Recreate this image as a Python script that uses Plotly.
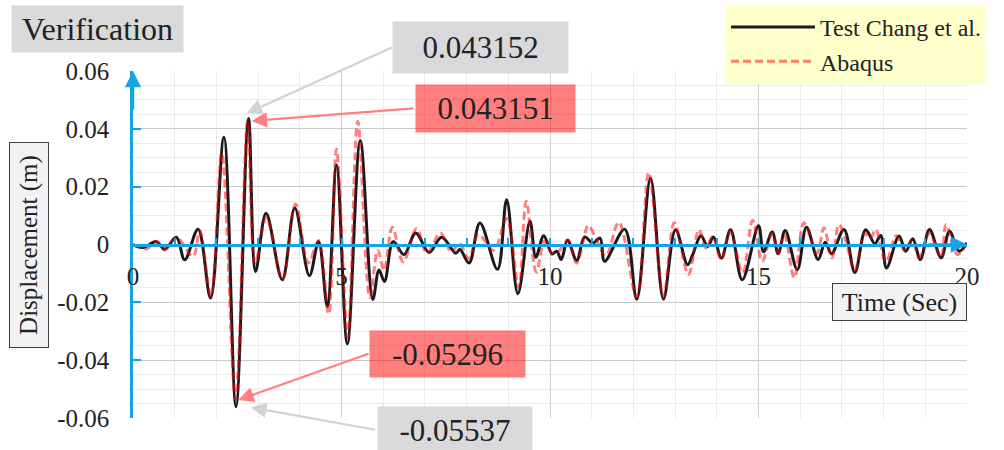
import plotly.graph_objects as go

# ---------------- data ----------------
time_test = [0, 0.24, 0.56, 0.76, 1.04, 1.24, 1.56, 1.86, 2.18, 2.47, 2.77, 2.94, 3.19, 3.58,
             3.88, 4.23, 4.45, 4.66, 4.88, 5.14, 5.45, 5.75, 5.9, 6.03, 6.24, 6.5, 6.78, 7.1,
             7.4, 7.74, 7.84, 8.06, 8.32, 8.74, 8.96, 9.23, 9.52, 9.66, 9.85, 10.05, 10.16,
             10.27, 10.42, 10.64, 10.83, 11.03, 11.2, 11.31, 11.79, 12.08, 12.41, 12.72, 13.01,
             13.3, 13.42, 13.62, 13.78, 13.92, 14.11, 14.33, 14.61, 15.0, 15.12, 15.33, 15.47,
             15.64, 15.93, 16.15, 16.43, 16.6, 16.75, 17.05, 17.31, 17.57, 17.79, 17.93, 18.07,
             18.37, 18.53, 18.7, 18.88, 19.1, 19.38, 19.58, 19.81, 20.0]
disp_test = [0, -0.001, 0.001, -0.0016, 0.0025, -0.0053, 0.0053, -0.0185, 0.0371, -0.0561,
             0.0436, -0.0093, 0.0108, -0.0122, 0.0126, -0.0108, 0.001, -0.0214, 0.0275, -0.0344,
             0.036, -0.019, -0.0088, -0.0128, 0.001, -0.0035, 0.004, -0.0028, 0.0025, -0.003,
             -0.0017, -0.0064, 0.0074, -0.0086, 0.0155, -0.017, 0.008, -0.0044, 0.003, -0.0033,
             -0.0023, -0.0052, 0.0015, -0.0055, 0.0026, 0.0005, 0.0022, -0.0058, 0.0053, -0.0189,
             0.0229, -0.0189, 0.0051, -0.007, -0.0036, 0.003, -0.0007, 0.0026, -0.0047, 0.0051,
             -0.0122, 0.0065, -0.0025, 0.0043, -0.0032, 0.0048, -0.0087, 0.006, -0.0052, 0.0008,
             -0.0032, 0.0052, -0.0097, 0.0051, 0.0003, 0.0031, -0.0081, 0.0029, -0.0023, 0.002,
             -0.0052, 0.0052, -0.0046, 0.0046, -0.0023, 0.0006]

time_abaqus = [0, 0.32, 0.56, 0.76, 1.04, 1.44, 1.6, 1.87, 2.13, 2.46, 2.75, 2.93, 3.2, 3.58,
               3.9, 4.2, 4.45, 4.69, 4.88, 5.15, 5.39, 5.68, 5.87, 6.02, 6.22, 6.48, 6.8, 7.05,
               7.37, 7.64, 7.82, 8.05, 8.28, 8.65, 8.96, 9.25, 9.43, 9.67, 9.87, 10.05, 10.2,
               10.43, 10.64, 10.92, 11.1, 11.34, 11.65, 12.08, 12.37, 12.72, 12.98, 13.32, 13.57,
               13.74, 13.9, 14.11, 14.32, 14.62, 14.86, 15.09, 15.33, 15.48, 15.62, 15.86, 16.09,
               16.4, 16.57, 16.76, 16.93, 17.1, 17.31, 17.55, 17.68, 17.81, 18.06, 18.3, 18.5,
               18.68, 18.86, 19.1, 19.38, 19.5, 19.77, 20.0]
disp_abaqus = [0, -0.0016, 0.001, -0.0019, 0.0024, -0.0041, 0.0048, -0.018, 0.0317, -0.0535,
               0.043, -0.0064, 0.0095, -0.012, 0.014, -0.0064, 0.0014, -0.024, 0.033, -0.032,
               0.0426, -0.0183, -0.002, -0.009, 0.006, -0.006, 0.0055, -0.003, 0.004, -0.0027,
               0.0005, -0.0048, 0.0035, -0.002, 0.009, -0.0148, 0.015, -0.0095, 0.0012, -0.003,
               -0.0025, 0.0016, -0.0064, 0.0066, 0.002, -0.004, 0.0077, -0.0182, 0.0248, -0.0182,
               0.0075, -0.0104, 0.0051, -0.0012, 0.0028, -0.0052, 0.0045, -0.0098, 0.0084,
               -0.0058, 0.004, -0.003, 0.0035, -0.0115, 0.0075, -0.003, 0.0058, -0.0046, 0.0069,
               0.001, -0.009, 0.004, 0.002, 0.0052, -0.006, 0.003, -0.002, 0.0015, -0.0045, 0.004,
               -0.0046, 0.0069, -0.0035, 0.0005]

series_names = ["Test Chang et al.", "Abaqus"]
x_tick_vals = [0, 5, 10, 15, 20]
x_tick_text = ["0", "5", "10", "15", "20"]
y_tick_vals = [-0.06, -0.04, -0.02, 0, 0.02, 0.04, 0.06]
y_tick_text = ["-0.06", "-0.04", "-0.02", "0", "0.02", "0.04", "0.06"]
peak_labels = ["0.043152", "0.043151", "-0.05296", "-0.05537"]

# ---------------- styling / layout helpers ----------------
FONT = "Liberation Serif"
BLUE = "#14A3E4"
TXT = "#222222"
L, T, W, H = 133, 71, 834, 347   # plot area in pixels


def paper(px, py):
    return (px - L) / W, 1 - (py - T) / H


def xdata(px):
    return (px - L) / W * 20.0


def ydata(py):
    return 0.06 - (py - T) / H * 0.12


fig = go.Figure()
fig.add_trace(go.Scatter(
    x=time_test, y=disp_test, mode="lines", name=series_names[0],
    line=dict(color="#1a1a1a", width=3, shape="spline", smoothing=1.0),
    legendgroup="a"))
fig.add_trace(go.Scatter(
    x=time_abaqus, y=disp_abaqus, mode="lines", name=series_names[1],
    line=dict(color="rgba(255,0,0,0.5)", width=3, dash="8px,4px", shape="spline", smoothing=1.0),
    legendgroup="b"))

annotations = []


def box(text, bx, by, bw, bh, size, bg, border=None, angle=0):
    cx, cy = paper(bx, by)
    d = dict(text=text, xref="paper", yref="paper", x=cx, y=cy, xanchor="center",
             yanchor="middle", showarrow=False, textangle=angle,
             font=dict(family=FONT, size=size, color=TXT),
             bgcolor=bg, width=bw, height=bh, borderpad=0)
    if border:
        d.update(bordercolor=border, borderwidth=1)
    return d


annotations.append(box("Verification", 97.5, 29, 171, 46, 32, "#D9D9D9"))
annotations.append(box("Displacement (m)", 29, 245, 204, 38, 25, "#F2F2F2", "#404040", -90))
annotations.append(box("Time (Sec)", 899.5, 301.5, 133, 36, 26, "#F2F2F2", "#404040"))

# axis arrows
annotations.append(dict(x=0, y=0.06, xref="x", yref="y", text="", showarrow=True,
                        ax=0, ay=40, arrowhead=2, arrowsize=1.3, arrowwidth=2.5,
                        arrowcolor=BLUE))
annotations.append(dict(x=20, y=0, xref="x", yref="y", text="", showarrow=True,
                        ax=-40, ay=0, arrowhead=2, arrowsize=1.3, arrowwidth=2.5,
                        arrowcolor=BLUE))

GRAY_BOX = "#D9D9DB"
RED_BOX = "rgba(255,0,0,0.5)"
annotations.append(box(peak_labels[0], 480.5, 47.5, 175, 51, 31, GRAY_BOX))
annotations.append(box(peak_labels[1], 495.5, 108.5, 159, 47, 31, RED_BOX))
annotations.append(box(peak_labels[2], 447.5, 354.0, 155, 46, 31, RED_BOX))
annotations.append(box(peak_labels[3], 454.5, 429.5, 154, 46, 31, GRAY_BOX))

arrows = [
    # tip px, tip py, tail dx, tail dy, colour
    (246.7, 113.3, 146.6, -66.6, "#D2D2D2"),
    (251.7, 121.0, 163.3, -12.7, "#FF7F7F"),
    (238.3, 400.0, 131.7, -46.7, "#FF7F7F"),
    (251.0, 407.5, 125.7, 22.5, "#D2D2D2"),
]
for tx, ty, dx, dy, col in arrows:
    annotations.append(dict(x=xdata(tx), y=ydata(ty), xref="x", yref="y", text="",
                            showarrow=True, ax=dx, ay=dy, arrowhead=2, arrowsize=1.4,
                            arrowwidth=2.2, arrowcolor=col))

lx, ly = paper(726, 5)
fig.update_layout(
    width=1004, height=450,
    margin=dict(l=L, r=1004 - L - W, t=T, b=450 - T - H, autoexpand=False),
    paper_bgcolor="white", plot_bgcolor="white",
    font=dict(family=FONT, size=25, color=TXT),
    showlegend=True,
    legend=dict(x=lx, y=ly, xanchor="left", yanchor="top", bgcolor="#FFFFCC",
                font=dict(family=FONT, size=24, color=TXT), itemwidth=84,
                tracegroupgap=0, borderwidth=0),
    annotations=annotations,
    xaxis=dict(range=[0, 20], anchor="free", position=0.5, side="bottom",
               tickvals=x_tick_vals, ticktext=x_tick_text,
               showline=True, linecolor=BLUE, linewidth=2.5,
               ticks="inside", ticklen=6, tickwidth=2, tickcolor=BLUE,
               ticklabelstandoff=9,
               showgrid=True, gridcolor="#D0D0D0", gridwidth=1.3, zeroline=False,
               minor=dict(dtick=1, showgrid=True, gridcolor="#EBEBEB", gridwidth=1,
                          ticks="inside", ticklen=6, tickwidth=2, tickcolor=BLUE),
               tickfont=dict(family=FONT, size=25, color=TXT), fixedrange=True),
    yaxis=dict(range=[-0.06, 0.06], tickvals=y_tick_vals, ticktext=y_tick_text,
               showline=True, linecolor=BLUE, linewidth=2.5,
               ticks="inside", ticklen=8, tickwidth=2, tickcolor=BLUE,
               ticklabelstandoff=16,
               showgrid=True, gridcolor="#C8C8C8", gridwidth=1.3, zeroline=False,
               minor=dict(dtick=0.005, tick0=0, showgrid=True, gridcolor="#EBEBEB",
                          gridwidth=1),
               tickfont=dict(family=FONT, size=25, color=TXT), fixedrange=True),
)

fig.write_html("out.html", config={"displayModeBar": False})

# remove the browser's default page margin so the chart sits at (0, 0)
with open("out.html", "r", encoding="utf-8") as f:
    html = f.read()
html = html.replace("<body>", '<body style="margin:0;padding:0;">', 1)
with open("out.html", "w", encoding="utf-8") as f:
    f.write(html)
